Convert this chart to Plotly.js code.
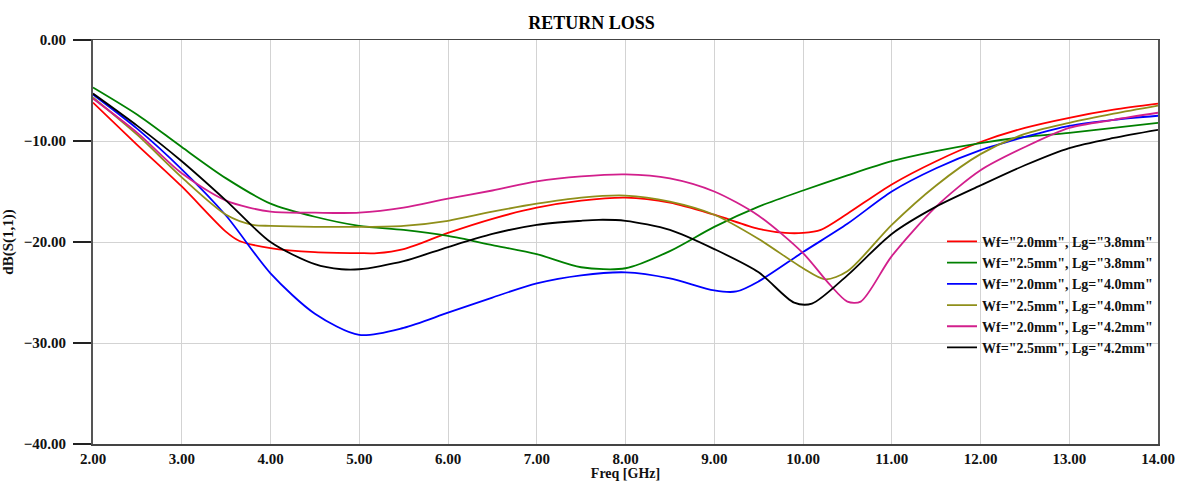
<!DOCTYPE html>
<html>
<head>
<meta charset="utf-8">
<script src="https://cdn.plot.ly/plotly-3.0.1.min.js"></script>
<style>html,body{margin:0;padding:0;background:#fff;}#chart{width:1183px;height:481px;}</style>
</head>
<body>
<div id="chart"></div>
<script>
// Series names
const seriesNames = [
  'Wf="2.0mm", Lg="3.8mm"',
  'Wf="2.5mm", Lg="3.8mm"',
  'Wf="2.0mm", Lg="4.0mm"',
  'Wf="2.5mm", Lg="4.0mm"',
  'Wf="2.0mm", Lg="4.2mm"',
  'Wf="2.5mm", Lg="4.2mm"'
];
const seriesColors = ['#ff0000', '#008000', '#0000ff', '#8f8f1a', '#d21f8c', '#000000'];

// Wf=2.0, Lg=3.8
const freqA = [2,2.5,3,3.5,3.65,4,4.5,5,5.2,5.5,6,6.5,7,7.5,8,8.5,9,9.5,9.8,10,10.2,10.5,11,11.5,12,12.5,13,13.5,14];
const dbA   = [-6.2,-10.4,-14.5,-19.0,-19.9,-20.6,-21.0,-21.1,-21.1,-20.7,-19.1,-17.7,-16.6,-15.9,-15.6,-16.1,-17.3,-18.7,-19.1,-19.1,-18.8,-17.2,-14.3,-12.0,-10.1,-8.7,-7.7,-6.9,-6.3];
// Wf=2.5, Lg=3.8
const freqB = [2,2.5,3,3.5,4,4.5,5,5.5,6,6.5,7,7.5,8,8.5,9,9.5,10,10.5,11,11.5,12,12.5,13,13.5,14];
const dbB   = [-4.7,-7.4,-10.6,-13.7,-16.2,-17.5,-18.4,-18.8,-19.4,-20.3,-21.2,-22.5,-22.6,-20.9,-18.5,-16.5,-14.9,-13.4,-12.0,-11.0,-10.2,-9.6,-9.2,-8.7,-8.2];
// Wf=2.0, Lg=4.0
const freqC = [2,2.5,3,3.5,4,4.5,5,5.5,6,6.5,7,7.5,8,8.5,9,9.25,9.5,10,10.5,11,11.5,12,12.5,13,13.5,14];
const dbC   = [-5.4,-8.8,-12.8,-17.4,-23.1,-27.1,-29.2,-28.5,-27.0,-25.5,-24.1,-23.3,-23.0,-23.6,-24.8,-24.9,-23.9,-21.0,-18.2,-15.0,-12.7,-10.9,-9.6,-8.5,-7.9,-7.5];
// Wf=2.5, Lg=4.0
const freqD = [2,2.5,3,3.5,3.8,4,4.5,5,5.5,6,6.5,7,7.5,8,8.5,9,9.5,10,10.25,10.5,11,11.5,12,12.5,13,13.5,14];
const dbD   = [-5.7,-9.4,-13.6,-17.3,-18.3,-18.4,-18.5,-18.5,-18.4,-17.9,-17.0,-16.2,-15.6,-15.4,-16.0,-17.3,-19.7,-22.6,-23.7,-22.9,-18.3,-14.4,-11.3,-9.3,-8.2,-7.3,-6.5];
// Wf=2.0, Lg=4.2
const freqE = [2,2.5,3,3.5,4,4.5,5,5.5,6,6.5,7,7.5,8,8.5,9,9.5,10,10.3,10.5,10.65,11,11.5,12,12.5,13,13.5,14];
const dbE   = [-5.8,-9.2,-13.2,-15.9,-17.0,-17.1,-17.1,-16.6,-15.7,-14.9,-14.0,-13.5,-13.3,-13.7,-15.0,-17.4,-21.1,-24.2,-25.9,-25.9,-21.4,-16.5,-12.9,-10.6,-8.7,-7.9,-7.2];
// Wf=2.5, Lg=4.2
const freqF = [2,2.5,3,3.5,4,4.5,4.8,5,5.5,6,6.5,7,7.5,7.7,8,8.5,9,9.5,9.9,10.1,10.5,11,11.5,12,12.5,13,13.5,14];
const dbF   = [-5.3,-8.5,-12.0,-15.9,-20.0,-22.2,-22.7,-22.7,-21.9,-20.5,-19.2,-18.3,-17.9,-17.8,-17.9,-18.8,-20.7,-23.0,-26.0,-26.1,-23.3,-19.2,-16.5,-14.4,-12.4,-10.7,-9.7,-8.9];

const xTickVals = [2,3,4,5,6,7,8,9,10,11,12,13,14];
const yTickVals = [0,-10,-20,-30,-40];

const xs = [freqA, freqB, freqC, freqD, freqE, freqF];
const ys = [dbA, dbB, dbC, dbD, dbE, dbF];

const traces = xs.map((x, i) => ({
  x: x, y: ys[i], type: 'scatter', mode: 'lines',
  name: seriesNames[i], legendgroup: 'g' + i,
  line: {color: seriesColors[i], width: 1.8, shape: 'spline', smoothing: 0.8}
}));

const serif = 'Liberation Serif, Times New Roman, serif';
const layout = {
  width: 1183, height: 481,
  margin: {l: 93, r: 25, t: 40, b: 37},
  paper_bgcolor: '#fff', plot_bgcolor: '#fff',
  title: {text: '<b>RETURN LOSS</b>', x: 0.5, xanchor: 'center', y: 0.953, yanchor: 'middle',
          font: {family: serif, size: 18, color: '#000'}},
  showlegend: true,
  legend: {x: 1.0, xanchor: 'right', y: 0.54, yanchor: 'top', bgcolor: 'rgba(0,0,0,0)',
           font: {family: serif, size: 14, color: '#111', weight: 'bold'}, tracegroupgap: 0},
  xaxis: {
    range: [2, 14], tickvals: xTickVals, tickformat: '.2f',
    showgrid: true, gridcolor: '#d3d3d3', gridwidth: 1, zeroline: false,
    showline: true, linecolor: '#444', linewidth: 1.5, mirror: true,
    ticks: '', ticklabelstandoff: 0,
    tickfont: {family: serif, size: 15, color: '#111', weight: 'bold'},
    title: {text: '<b>Freq [GHz]</b>', standoff: 0, font: {family: serif, size: 14, color: '#111'}}
  },
  yaxis: {
    range: [-40, 0], tickvals: yTickVals, tickformat: '.2f',
    showgrid: true, gridcolor: '#d3d3d3', gridwidth: 1, zeroline: false,
    showline: true, linecolor: '#555', linewidth: 2, mirror: true,
    ticks: 'outside', ticklen: 18, tickwidth: 1.5, tickcolor: '#222', ticklabelstandoff: 4,
    tickfont: {family: serif, size: 15, color: '#111', weight: 'bold'},
    title: {text: '<b>dB(S(1,1))</b>', standoff: 12, font: {family: serif, size: 15, color: '#111'}}
  }
};

Plotly.newPlot('chart', traces, layout, {displayModeBar: false, staticPlot: true});
</script>
</body>
</html>
